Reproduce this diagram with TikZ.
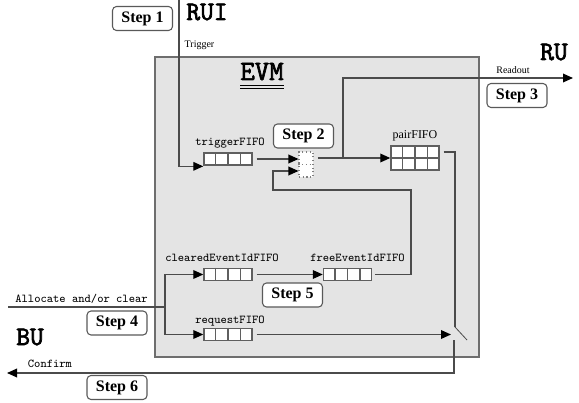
\documentclass[tikz,border=0pt]{standalone}
\usepackage{fontspec}
\setmainfont{Liberation Serif}
\newfontfamily\namefont{Latin Modern Mono}[FakeBold=2.5]
\usetikzlibrary{arrows.meta,calc}

\definecolor{evmfill}{RGB}{228,228,228}
\definecolor{evmedge}{RGB}{110,110,110}
\definecolor{wire}{RGB}{75,75,75}
\definecolor{cellgray}{RGB}{95,95,95}

\tikzset{
  wire/.style={draw=wire, line width=1pt},
  flow/.style={wire, -{Triangle[length=7.5pt,width=6.5pt,color=black]}},
  stepbox/.style={draw=black!65, fill=white, rounded corners=3pt, line width=0.8pt,
    minimum width=45pt, minimum height=18pt, inner sep=0pt,
    font=\bfseries\fontsize{12}{14}\selectfont},
  fifo/.style={draw=cellgray, fill=white, line width=1.1pt, inner sep=0pt,
    minimum width=36pt, minimum height=9pt},
  cellline/.style={draw=cellgray, line width=1.1pt},
  ttlabel/.style={font=\ttfamily\fontsize{9}{10}\selectfont, inner sep=0pt, anchor=base},
  smalllabel/.style={font=\fontsize{7.5}{9}\selectfont, inner sep=0pt, anchor=base},
  bigname/.style={font=\namefont\fontsize{20}{22}\selectfont, inner sep=0pt, anchor=base},
}

\begin{document}
\begin{tikzpicture}[x=0.75pt,y=0.75pt,yscale=-1,xscale=1]
  \useasboundingbox (0,0) rectangle (579,403);
  % the EVM
  \draw[evmedge, fill=evmfill, line width=1.2pt] (155,57) rectangle (479,357);
  \node[bigname, font=\namefont\fontsize{21}{23}\selectfont] (evm) at (262,80) {EVM};
  \draw[line width=1pt] ([yshift=4pt]evm.base west) -- ([yshift=4pt]evm.base east);
  \draw[line width=1pt] ([yshift=6.3pt]evm.base west) -- ([yshift=6.3pt]evm.base east);

  % outside names
  \node[bigname] (rui) at (207,20) {RUI};
  \node[bigname] (ru) at (554,60) {RU};
  \node[bigname] (bu) at (30,345) {BU};

  % free ends of the wires
  \coordinate (trigtop) at (179,0);
  \coordinate (rdbranch) at (343,158);
  \coordinate (ruend) at (573,78);
  \coordinate (fbright) at (411,190);
  \coordinate (fbleft) at (273,171);
  \coordinate (allocin) at (8,307);
  \coordinate (allocsplit) at (165,307);
  \coordinate (swtop) at (455,327);
  \coordinate (swbot) at (454,340);
  \coordinate (confend) at (7,373);

  % fifos
  \node[fifo] (trig) at (228,159) {};
  \node[fifo] (clr) at (228,274.5) {};
  \node[fifo] (free) at (347.5,274.5) {};
  \node[fifo] (req) at (228,334.5) {};
  \node[fifo, minimum height=18pt] (pair) at (415,158) {};
  \node[draw=gray, dotted, fill=white, line width=0.8pt, inner sep=0pt,
    minimum width=10.5pt, minimum height=18.75pt] (sel) at (306,164.5) {};

  % wires
  \draw[flow] (trigtop) |- ([yshift=5.5pt]trig.west);
  \draw[flow, shorten <=3pt] (trig.east) -- (trig.east -| sel.west);
  \draw[flow, shorten <=3pt] (sel.east |- pair.west) -- (pair.west);
  \draw[flow] (rdbranch) |- (ruend);
  \draw[flow, shorten <=2pt] (free.east) -| (fbright) -| (fbleft) -- (fbleft -| sel.west);
  \draw[flow, shorten <=3pt] (clr.east) -- (free.west);
  \draw[wire] (allocin) -- (allocsplit);
  \draw[flow] (allocsplit) |- (clr.west);
  \draw[flow] (allocsplit) |- (req.west);
  \draw[flow, shorten <=3pt, shorten >=3pt] (req.east) -- (req.east -| swtop);
  \draw[wire, shorten <=3pt] ([yshift=-4.5pt]pair.east) -| (swtop);
  \draw[wire, line width=0.6pt] (swtop) -- ++(12,13);
  \draw[flow] (swbot) |- (confend);

  % cells
  \foreach \f in {trig,clr,free,req,pair}
    \foreach \i in {1,2,3}
      \draw[cellline] ($(\f.north west)!\i/4!(\f.north east)$) -- ($(\f.south west)!\i/4!(\f.south east)$);
  \draw[cellline] (pair.west) -- (pair.east);
  \draw[gray, dotted, line width=0.8pt] (sel.west) -- (sel.east);

  % labels
  \node[ttlabel] (triglbl) at (230,146) {triggerFIFO};
  \node[font=\fontsize{9}{10}\selectfont, inner sep=0pt, anchor=base] (pairlbl) at (415,139) {pairFIFO};
  \node[ttlabel] (clrlbl) at (222,261.5) {clearedEventIdFIFO};
  \node[ttlabel] (freelbl) at (357.5,261.5) {freeEventIdFIFO};
  \node[ttlabel] (reqlbl) at (230,323) {requestFIFO};
  \node[ttlabel] (alloclbl) at (81.5,302) {Allocate and/or clear};
  \node[ttlabel] (conflbl) at (50,367) {Confirm};
  \node[smalllabel] (trigname) at (199.5,48) {Trigger};
  \node[smalllabel] (readname) at (513,74) {Readout};

  % steps
  \node[stepbox] (step1) at (142.5,18.5) {Step 1};
  \node[stepbox] (step2) at (303.5,136) {Step 2};
  \node[stepbox] (step3) at (517,95.5) {Step 3};
  \node[stepbox] (step4) at (117,323) {Step 4};
  \node[stepbox] (step5) at (292.5,295) {Step 5};
  \node[stepbox] (step6) at (117,387.5) {Step 6};
\end{tikzpicture}
\end{document}
